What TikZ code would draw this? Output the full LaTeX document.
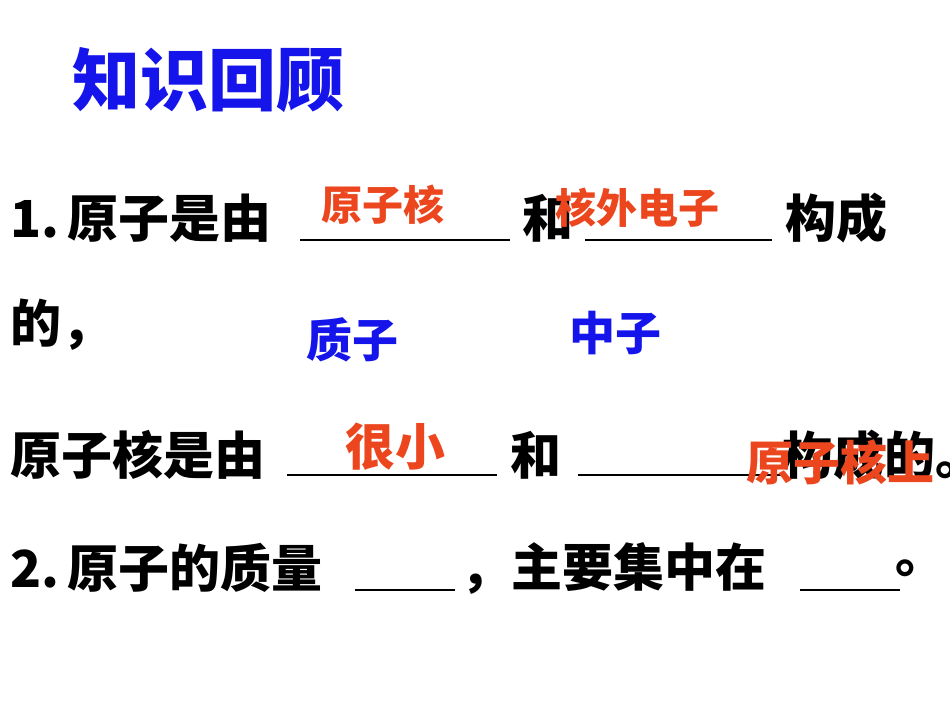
\documentclass[tikz,border=0pt]{standalone}
\usepackage{fontspec}
\newfontfamily\cjk{Noto Sans CJK SC}
\definecolor{tblue}{RGB}{20,20,235}
\definecolor{tred}{RGB}{235,70,30}
\tikzset{
 txt/.style={inner sep=0pt,anchor=west,font=\cjk\bfseries\fontsize{51}{53}\selectfont},
 ans/.style={inner sep=0pt,font=\cjk\bfseries\fontsize{#1}{#1}\selectfont,text=tred},
 bl/.style={inner sep=0pt,font=\cjk\bfseries\fontsize{#1}{#1}\selectfont,text=tblue},
 blank/.style={line width=2.5pt}
}
\begin{document}
\begin{tikzpicture}[x=1pt,y=-1pt]
\useasboundingbox[fill=white] (0,0) rectangle (950,713);
\node[bl=68] (title) at (208,80) {知识回顾};
\node[txt] (l1a) at (10,218) {1.\,原子是由};
\coordinate (u1a) at (300,240); \coordinate (u1b) at (510,240);
\draw[blank] (u1a) -- (u1b);
\node[txt] (l1b) at (522,218) {和};
\coordinate (u2a) at (585,240); \coordinate (u2b) at (772,240);
\draw[blank] (u2a) -- (u2b);
\node[txt] (l1c) at (785,218) {构成};
\node[txt] (l2) at (10,325) {的，};
\node[bl=46] (p) at (352,340) {质子};
\node[bl=46] (n) at (615,333) {中子};
\node[txt] (l3a) at (10,455) {原子核是由};
\coordinate (u3a) at (287,475); \coordinate (u3b) at (497,475);
\draw[blank] (u3a) -- (u3b);
\node[txt] (l3b) at (510,455) {和};
\coordinate (u4a) at (578,475); \coordinate (u4b) at (782,475);
\draw[blank] (u4a) -- (u4b);
\node[txt] (l3c) at (782,455) {构成的。};
\node[txt] (l4a) at (10,568) {2.\,原子的质量};
\coordinate (u5a) at (355,590); \coordinate (u5b) at (455,590);
\draw[blank] (u5a) -- (u5b);
\node[txt] (l4b) at (460,568) {，主要集中在};
\coordinate (u6a) at (800,590); \coordinate (u6b) at (900,590);
\draw[blank] (u6a) -- (u6b);
\node[txt] (l4c) at (895,568) {。};
\node[ans=41] (a1) at (383,205) {原子核};
\node[ans=41] (a2) at (637,208) {核外电子};
\node[ans=50] (a3) at (395,447) {很小};
\node[ans=47] (a4) at (840,462) {原子核上};
\end{tikzpicture}
\end{document}
